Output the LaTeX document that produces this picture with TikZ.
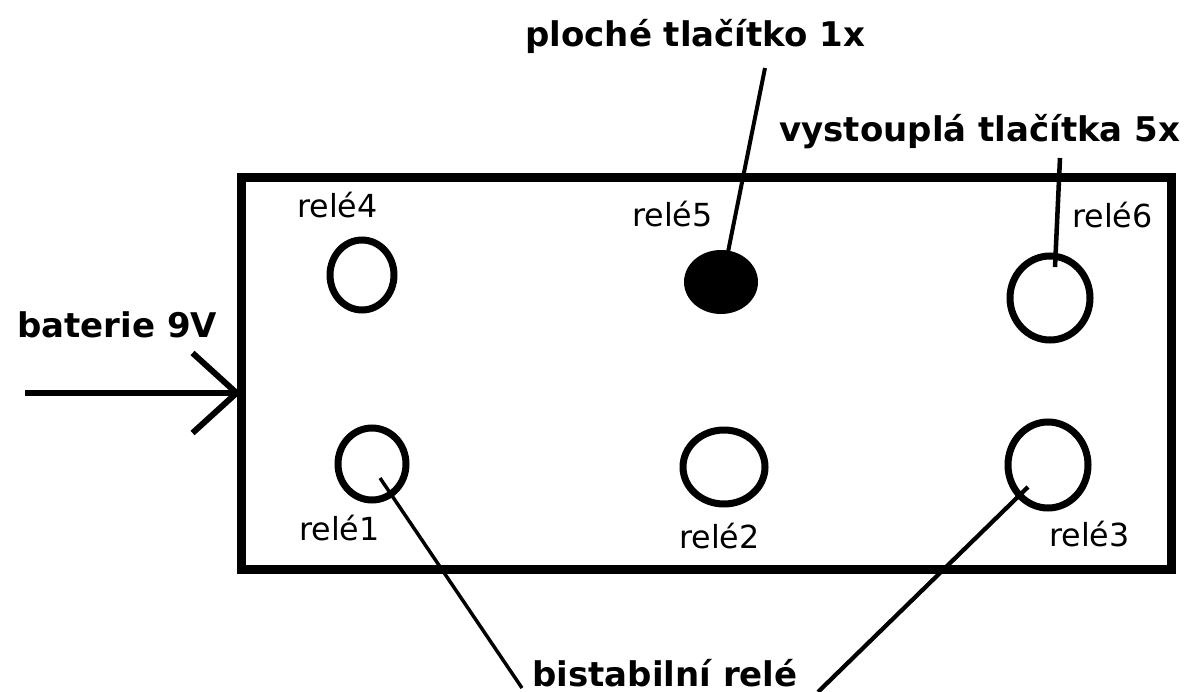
\documentclass[tikz,border=0pt]{standalone}
\usepackage{fontspec}
\setmainfont{DejaVu Sans}
\usetikzlibrary{shapes.geometric,arrows.meta}
\begin{document}
\begin{tikzpicture}[x=0.75pt,y=-0.75pt,
  lbl/.style={font=\bfseries\fontsize{25.5pt}{30pt}\selectfont, inner sep=0pt, anchor=base west},
  rl/.style={font=\fontsize{23.8pt}{28pt}\selectfont, inner sep=0pt, anchor=base west},
  relay/.style={ellipse, draw, line width=5.25pt, inner sep=0pt},
  flat/.style={ellipse, fill=black, inner sep=0pt},
  ptr/.style={line width=3pt},
  frame/.style={draw, line width=6.75pt, inner sep=0pt},
  feed/.style={line width=4.5pt, -{Straight Barb[length=33pt,width=60pt,line width=4.5pt]}}
]
\useasboundingbox (0,0) rectangle (1192,692);
% housing
\node[frame, minimum width=697.5pt, minimum height=294pt] (box) at (706,373) {};
% relays
\node[relay, minimum width=48pt, minimum height=52.5pt] (r4) at (362,275) {};
\node[flat, minimum width=55.5pt, minimum height=48pt] (r5) at (721,282) {};
\node[relay, minimum width=60pt, minimum height=63pt] (r6) at (1050,298) {};
\node[relay, minimum width=51pt, minimum height=54pt] (r1) at (372,464) {};
\node[relay, minimum width=61.5pt, minimum height=55.5pt] (r2) at (724,467) {};
\node[relay, minimum width=60pt, minimum height=64.5pt] (r3) at (1048,465) {};
% relay labels
\node[rl] (t4) at (297,217) {relé4};
\node[rl] (t5) at (632,226) {relé5};
\node[rl] (t6) at (1072,227) {relé6};
\node[rl] (t1) at (299,540) {relé1};
\node[rl] (t2) at (679,548) {relé2};
\node[rl] (t3) at (1049,546) {relé3};
% callout labels
\node[lbl] (bat) at (17,337) {baterie 9V};
\node[lbl] (plo) at (525,47) {ploché tlačítko 1x};
\node[lbl] (vys) at (779,142) {vystouplá tlačítka 5x};
\node[lbl] (bis) at (532,686) {bistabilní relé};
% connector ends
\coordinate (batstart) at (25,393);
\coordinate (batend) at (241,393);
\coordinate (plo1) at (765,68);
\coordinate (plo2) at (728,252);
\coordinate (vys1) at (1060,158);
\coordinate (vys2) at (1055,267);
\coordinate (b1a) at (380,478);
\coordinate (b1b) at (522,688);
\coordinate (b3a) at (1028,487);
\coordinate (b3b) at (818,692);
% connectors
\draw[feed] (batstart) -- (batend);
\draw[ptr] (plo1) -- (plo2);
\draw[ptr, line width=3.4pt] (vys1) -- (vys2);
\draw[ptr, line width=2.6pt] (b1a) -- (b1b);
\draw[ptr, line width=3.2pt] (b3a) -- (b3b);
\end{tikzpicture}
\end{document}
